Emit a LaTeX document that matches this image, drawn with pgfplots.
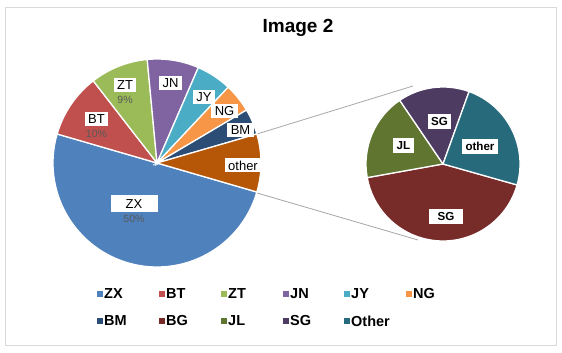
\documentclass[border=0pt]{standalone}
\usepackage{pgfplots}
\pgfplotsset{compat=1.18}
\usepackage{pgfplotstable}
\usepackage{fontspec}
\setmainfont{Liberation Sans}

\definecolor{cZX}{HTML}{4F81BD}
\definecolor{cBT}{HTML}{C0504D}
\definecolor{cZT}{HTML}{9BBB59}
\definecolor{cJN}{HTML}{8064A2}
\definecolor{cJY}{HTML}{4BACC6}
\definecolor{cNG}{HTML}{F79646}
\definecolor{cBM}{HTML}{2C4D75}
\definecolor{cOT}{HTML}{B65708}
\definecolor{cBG}{HTML}{772C2A}
\definecolor{cJL}{HTML}{5F7530}
\definecolor{cSG}{HTML}{4D3B62}
\definecolor{cOther}{HTML}{276A7C}
\definecolor{frame}{HTML}{D9D9D9}
\definecolor{conn}{HTML}{A6A6A6}
\definecolor{pctgray}{HTML}{595959}

% main pie: value (percent), colour, label box centre (x, y), percent label (0 = none)
\pgfplotstableread{
name  value color lx    ly    pct
ZX    50    cZX   134   149   50
BT    10    cBT   96.5  234   10
ZT    9     cZT   125   268   9
JN    8     cJN   170.5 270   0
JY    5.5   cJY   204   255.5 0
NG    4.5   cNG   224.5 241.5 0
BM    4     cBM   240.5 223   0
other 9     cOT   243   187.5 0
}\maintable

% secondary pie (splits the "other" slice)
\pgfplotstableread{
name  value color  lx    ly
SG    3.85  cBG    446   136.5
JL    1.65  cJL    403.5 207.5
SG    1.35  cSG    439.5 231.5
other 2.15  cOther 480   206.5
}\sectable

% legend entries
\pgfplotstableread{
name  color  x   y
ZX    cZX    97  59
BT    cBT    159 59
ZT    cZT    221 59
JN    cJN    283 59
JY    cJY    344 59
NG    cNG    406 59
BM    cBM    97  32
BG    cBG    159 32
JL    cJL    221 32
SG    cSG    283 32
Other cOther 344 32
}\legtable

\tikzset{lbl/.style={fill=white, inner xsep=3.5bp, inner ysep=1.5bp, minimum height=14bp, font=\fontsize{13bp}{14bp}\selectfont, text=black},
  slbl/.style={fill=white, inner xsep=3.5bp, inner ysep=1.5bp, minimum height=15bp, font=\bfseries\fontsize{11.6bp}{14bp}\selectfont, text=black}}

\begin{document}
\begin{tikzpicture}
\begin{axis}[
  width=562bp, height=353bp, scale only axis,
  xmin=0, xmax=562, ymin=0, ymax=353,
  hide axis, clip=false,
]
\fill[white] (axis cs:0,0) rectangle (axis cs:562,353);
\draw[frame, line width=0.8bp] (axis cs:5.7,8) rectangle (axis cs:556,345.7);

\node[font=\bfseries\fontsize{19bp}{22bp}\selectfont, anchor=base] at (axis cs:298,320.5) {Image 2};

% connector lines
\draw[conn, line width=0.8bp] (axis cs:257,219) -- (axis cs:413,267);
\draw[conn, line width=0.8bp] (axis cs:257,160) -- (axis cs:418,113);

% main pie
\def\ang{-16.2}
\pgfplotsforeachungrouped \i in {0,...,7}{%
  \pgfplotstablegetelem{\i}{value}\of\maintable \let\v\pgfplotsretval
  \pgfplotstablegetelem{\i}{color}\of\maintable \let\c\pgfplotsretval
  \pgfmathsetmacro\angb{\ang-\v*3.6}%
  \edef\cmd{\noexpand\fill[fill=\c, draw=white, line width=1.3bp] (axis cs:157,190) -- ++(\ang:104bp) arc[start angle=\ang, end angle=\angb, radius=104bp] -- cycle;}%
  \cmd
  \let\ang\angb
}
\pgfplotsforeachungrouped \i in {0,...,7}{%
  \pgfplotstablegetelem{\i}{name}\of\maintable \let\n\pgfplotsretval
  \pgfplotstablegetelem{\i}{lx}\of\maintable \let\lx\pgfplotsretval
  \pgfplotstablegetelem{\i}{ly}\of\maintable \let\ly\pgfplotsretval
  \pgfplotstablegetelem{\i}{pct}\of\maintable \let\p\pgfplotsretval
  \ifnum\i=0
    \edef\cmd{\noexpand\node[lbl, minimum width=47bp, minimum height=17bp] at (axis cs:\lx,\ly) {\n};}%
  \else
    \edef\cmd{\noexpand\node[lbl] at (axis cs:\lx,\ly) {\n};}%
  \fi
  \cmd
  \ifnum\p>0
    \pgfmathsetmacro\py{\ly-15}%
    \edef\cmd{\noexpand\node[text=pctgray, font=\noexpand\fontsize{10.5bp}{12bp}\noexpand\selectfont, inner sep=0pt] at (axis cs:\lx,\py) {\p\noexpand\%};}%
    \cmd
  \fi
}

% secondary pie
\def\ang{-15.8}
\pgfplotsforeachungrouped \i in {0,...,3}{%
  \pgfplotstablegetelem{\i}{value}\of\sectable \let\v\pgfplotsretval
  \pgfplotstablegetelem{\i}{color}\of\sectable \let\c\pgfplotsretval
  \pgfmathsetmacro\angb{\ang-\v*40}%
  \edef\cmd{\noexpand\fill[fill=\c, draw=white, line width=1.3bp] (axis cs:443,189) -- ++(\ang:77bp) arc[start angle=\ang, end angle=\angb, radius=77bp] -- cycle;}%
  \cmd
  \let\ang\angb
}
\pgfplotsforeachungrouped \i in {0,...,3}{%
  \pgfplotstablegetelem{\i}{name}\of\sectable \let\n\pgfplotsretval
  \pgfplotstablegetelem{\i}{lx}\of\sectable \let\lx\pgfplotsretval
  \pgfplotstablegetelem{\i}{ly}\of\sectable \let\ly\pgfplotsretval
  \ifnum\i=0
    \edef\cmd{\noexpand\node[slbl, minimum width=34bp] at (axis cs:\lx,\ly) {\n};}%
  \else
    \edef\cmd{\noexpand\node[slbl] at (axis cs:\lx,\ly) {\n};}%
  \fi
  \cmd
}

% legend
\pgfplotsforeachungrouped \i in {0,...,10}{%
  \pgfplotstablegetelem{\i}{name}\of\legtable \let\n\pgfplotsretval
  \pgfplotstablegetelem{\i}{color}\of\legtable \let\c\pgfplotsretval
  \pgfplotstablegetelem{\i}{x}\of\legtable \let\lx\pgfplotsretval
  \pgfplotstablegetelem{\i}{y}\of\legtable \let\ly\pgfplotsretval
  \pgfmathsetmacro\xa{\lx+5.5}\pgfmathsetmacro\ya{\ly-2.75}\pgfmathsetmacro\yb{\ly+2.75}%
  \pgfmathsetmacro\tx{\lx+7}%
  \edef\cmd{\noexpand\fill[\c] (axis cs:\lx,\ya) rectangle (axis cs:\xa,\yb);
    \noexpand\node[anchor=west, inner sep=0pt, font=\noexpand\bfseries\noexpand\fontsize{14.5bp}{16bp}\noexpand\selectfont] at (axis cs:\tx,\ly) {\n};}%
  \cmd
}
\end{axis}
\end{tikzpicture}
\end{document}
